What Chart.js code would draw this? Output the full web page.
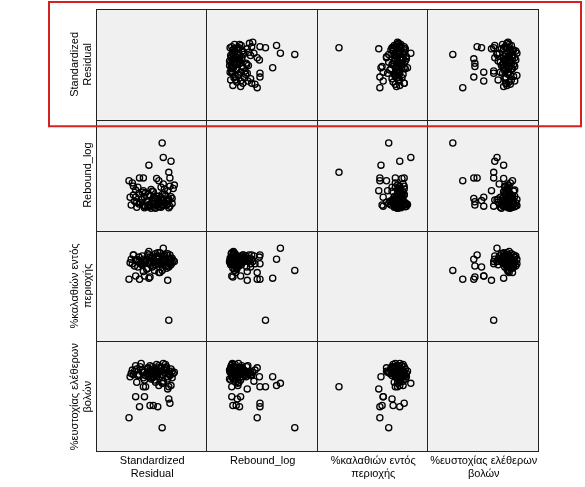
<!DOCTYPE html>
<html>
<head>
<meta charset="utf-8">
<script src="https://cdn.jsdelivr.net/npm/chart.js@4/dist/chart.umd.min.js"></script>
<style>
  html, body { margin: 0; padding: 0; background: #ffffff; }
  #wrap { width: 585px; height: 487px; }
</style>
</head>
<body>
<div id="wrap"><canvas id="c" width="585" height="487"></canvas></div>
<script>
// ---- Data: one row per observation, four variables ----
const standardizedResidual = [
  0.9, 1.5, -2.1, 1.0, 1.7, -0.3, 1.6, -1.15, -0.2, 0.1, 0.5, 1.5, -0.7, -1.5, -1.7, 1.4, -0.8, 0.4, 0.6,
  -1.2, 0.4, -0.3, 1.1, 0.8, -0.7, 0.1, 1.6, -1.6, 0.6, -0.1, 1.3, -0.9, 0.3, 0.9, -0.4, 1.8, -1.9, 0.0, 0.7,
  -1.0, 1.5, -0.6, 0.2, 1.0, -1.4, 0.5, -0.2, 1.2, -0.8, 0.8, 1.9, -1.7, 0.3, -0.5, 1.4, 0.1, -1.1, 0.6, 1.7,
  -0.3, 0.9, -1.3, 0.4, 1.1, -0.7, 0.0, 1.6, -1.5, 0.7, -0.1, 1.3, -0.9, 0.2, 2.0, -2.0, 0.5, -0.4, 1.0, -1.2,
  0.8, -0.6, 1.5, 0.3, -1.8, 1.2, -0.2, 0.6, -0.8, 1.8, 0.1, -1.4, 0.9, -0.3, 1.4
];
const reboundLog = [
  2.08, 1.55, 1.40, 1.82, 1.75, 1.68, 1.45, 1.45, 0.96, 1.02, 1.08, 1.04, 0.94, 1.10, 1.30, 1.22, 1.45, 1.44, 1.40,
  0.98, 1.12, 0.95, 1.25, 0.92, 1.10, 0.97, 1.30, 1.03, 1.12, 0.90, 0.96, 1.19, 1.07, 1.15, 0.93, 1.08, 0.96, 1.21, 0.94,
  1.06, 0.91, 1.18, 0.99, 1.34, 0.92, 0.97, 1.13, 1.00, 0.95, 1.09, 1.26, 1.14, 0.90, 1.03, 0.98, 1.20, 1.00, 0.93, 1.11,
  0.97, 1.05, 1.28, 0.95, 1.16, 0.91, 1.04, 0.94, 1.23, 1.01, 1.24, 0.97, 1.06, 0.92, 1.32, 1.10, 0.98, 1.02, 0.95, 1.17,
  1.28, 0.94, 1.07, 1.00, 1.36, 1.13, 0.93, 1.05, 1.22, 0.99, 1.09, 1.01, 0.96, 1.15, 1.04
];
const paintPct = [
  64, 19, 56, 84, 74, 57, 78, 56, 58, 68, 74, 67, 59, 59, 78, 55, 70, 76, 62,
  72, 75, 70, 78, 69, 73, 71, 74, 68, 76, 72, 66, 77, 69, 73, 79, 71, 74, 67, 80,
  70, 75, 72, 64, 77, 73, 70, 76, 68, 74, 71, 73, 78, 72, 65, 79, 74, 70, 75, 69,
  81, 72, 67, 77, 74, 71, 76, 70, 73, 62, 75, 78, 69, 73, 72, 71, 80, 66, 74, 76,
  70, 72, 68, 79, 70, 73, 71, 77, 63, 75, 72, 74, 69, 78, 71
];
const ftPct = [
  22, 59, 31, 62, 60, 68, 44, 41, 42, 42, 41, 48, 50, 50, 70, 57, 59, 68, 76,
  70, 74, 68, 72, 76, 65, 71, 69, 73, 78, 66, 74, 72, 63, 70, 75, 67, 71, 77, 68,
  80, 73, 69, 72, 64, 75, 70, 73, 79, 67, 76, 71, 70, 74, 71, 66, 68, 77, 72, 75,
  73, 62, 69, 79, 74, 72, 67, 70, 78, 73, 71, 77, 74, 65, 72, 68, 71, 76, 80, 70,
  73, 59, 71, 69, 74, 76, 78, 60, 72, 73, 75, 63, 70, 72, 68
];

const variableValues = [standardizedResidual, reboundLog, paintPct, ftPct];
const xAxisTitles = [
  ["Standardized", "Residual"],
  ["Rebound_log", ""],
  ["%καλαθιών εντός", "περιοχής"],
  ["%ευστοχίας ελέθερων", "βολών"]
];
const yAxisTitles = [
  ["Standardized", "Residual"],
  ["", "Rebound_log"],
  ["%καλαθιών εντός", "περιοχής"],
  ["%ευστοχίας ελέθερων", "βολών"]
];
const axisMin = [-5, 0.5, 0, 0];
const axisMax = [5, 2.5, 100, 100];

// ---- Build chart ----
const FONT = { family: "'Liberation Sans', Arial, sans-serif", size: 11, lineHeight: 1.18 };
const n = variableValues.length;
const scales = {};
for (let i = 0; i < n; i++) {
  scales['x' + i] = {
    type: 'linear', position: 'bottom', stack: 'cols', stackWeight: 1, weight: i + 1,
    min: axisMin[i], max: axisMax[i],
    ticks: { display: false }, grid: { display: false, drawTicks: false }, border: { display: false },
    title: { display: true, text: xAxisTitles[i], color: '#000', font: FONT, padding: { top: 2.5, bottom: 4 } }
  };
  scales['y' + i] = {
    type: 'linear', position: 'left', stack: 'rows', stackWeight: 1, weight: n - i,
    min: axisMin[i], max: axisMax[i],
    ticks: { display: false }, grid: { display: false, drawTicks: false }, border: { display: false },
    title: { display: true, text: yAxisTitles[i], color: '#000', font: FONT, padding: { top: 5.5, bottom: 2.5 } }
  };
}

const datasets = [];
for (let r = 0; r < n; r++) {
  for (let c = 0; c < n; c++) {
    if (r === c) continue;
    datasets.push({
      label: 'r' + r + 'c' + c,
      data: variableValues[c].map((v, k) => ({ x: v, y: variableValues[r][k] })),
      xAxisID: 'x' + c,
      yAxisID: 'y' + r,
      showLine: false,
      pointStyle: 'circle',
      pointRadius: 3.1,
      pointHoverRadius: 3.1,
      pointBorderWidth: 1.3,
      pointBorderColor: '#000',
      pointBackgroundColor: 'rgba(0,0,0,0)'
    });
  }
}

const matrixFrame = {
  id: 'matrixFrame',
  beforeDatasetsDraw(chart) {
    const ctx = chart.ctx;
    const xs = [], ys = [];
    for (let i = 0; i < n; i++) { xs.push(chart.scales['x' + i]); ys.push(chart.scales['y' + i]); }
    ctx.save();
    ctx.fillStyle = '#f0f0f0';
    for (let r = 0; r < n; r++) for (let c = 0; c < n; c++) {
      ctx.fillRect(xs[c].left, ys[r].top, xs[c].right - xs[c].left, ys[r].bottom - ys[r].top);
    }
    ctx.strokeStyle = '#222222';
    ctx.lineWidth = 1;
    ctx.beginPath();
    const L = xs[0].left, R = xs[n - 1].right, T = ys[0].top, B = ys[n - 1].bottom;
    for (let c = 0; c < n; c++) { const x = Math.round(xs[c].left) - 0.5; ctx.moveTo(x, T); ctx.lineTo(x, B); }
    ctx.moveTo(Math.round(R) - 0.5, T); ctx.lineTo(Math.round(R) - 0.5, B);
    for (let r = 0; r < n; r++) { const y = Math.round(ys[r].top) + 0.5; ctx.moveTo(L - 1, y); ctx.lineTo(R, y); }
    ctx.moveTo(L - 1, Math.round(B) - 0.5); ctx.lineTo(R, Math.round(B) - 0.5);
    ctx.stroke();
    ctx.restore();
  },
  afterDraw(chart) {
    // red highlight frame around the first row
    const ctx = chart.ctx;
    const y0 = chart.scales['y0'];
    const x3 = chart.scales['x' + (n - 1)];
    ctx.save();
    ctx.strokeStyle = '#d42222';
    ctx.lineWidth = 2;
    const left = y0.left - 14, right = x3.right + 42;
    const top = y0.top - 7, bottom = y0.bottom + 6.5;
    ctx.strokeRect(left, top, right - left, bottom - top);
    ctx.restore();
  }
};

new Chart(document.getElementById('c'), {
  type: 'scatter',
  data: { datasets },
  options: {
    responsive: false,
    animation: false,
    events: [],
    layout: { padding: { left: 63, right: 46, top: 9, bottom: 2.5 } },
    plugins: { legend: { display: false }, tooltip: { enabled: false } },
    scales
  },
  plugins: [matrixFrame]
});
</script>
</body>
</html>
